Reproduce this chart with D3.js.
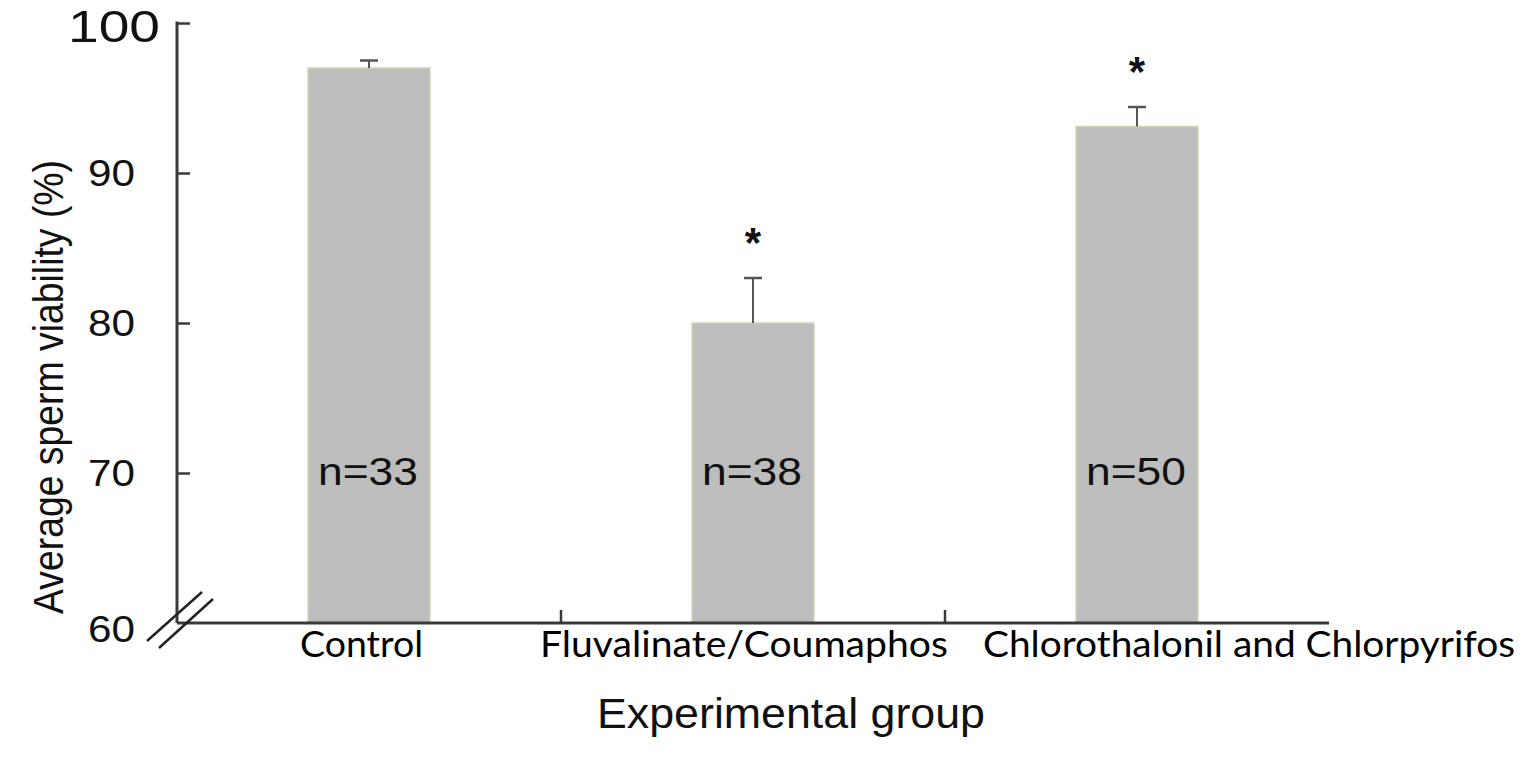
<!DOCTYPE html>
<html>
<head>
<meta charset="utf-8">
<script src="https://cdn.jsdelivr.net/npm/d3@7"></script>
<style>
html,body{margin:0;padding:0;background:#fff;}
svg{display:block;}
</style>
</head>
<body>
<svg id="chart" width="1530" height="765"></svg>
<script>
const categories = ["Control", "Fluvalinate/Coumaphos", "Chlorothalonil and Chlorpyrifos"];
const meanValues = [97.0, 80.0, 93.1];
const errorValues = [0.5, 3.0, 1.3];
const sampleLabels = ["n=33", "n=38", "n=50"];
const significant = [false, true, true];
const yTicks = [60, 70, 80, 90, 100];

(function () {
const svg = d3.select("#chart");
const mLeft = 177, mRight = 1329, mTop = 23, mBottom = 623;
const axisColor = "#3a3a3a";
const sans = "Liberation Sans, Arial, sans-serif";

const x = d3.scaleBand().domain(categories).range([mLeft, mRight]).paddingInner(0).paddingOuter(0);
const y = d3.scaleLinear().domain([60, 100]).range([mBottom, mTop]);
const barW = 122;
const cx = (c) => x(c) + x.bandwidth() / 2;

// bars
svg.append("g").selectAll("rect").data(categories).join("rect")
  .attr("x", (d) => cx(d) - barW / 2)
  .attr("y", (d, i) => y(meanValues[i]))
  .attr("width", barW)
  .attr("height", (d, i) => y(60) - y(meanValues[i]))
  .attr("fill", "#bdbdbd")
  .attr("stroke", "#d6d2b6")
  .attr("stroke-width", 1.5);

// error bars
const eg = svg.append("g").attr("stroke", "#555").attr("stroke-width", 2);
categories.forEach((c, i) => {
  const yt = y(meanValues[i] + errorValues[i]);
  eg.append("line").attr("x1", cx(c)).attr("x2", cx(c)).attr("y1", y(meanValues[i])).attr("y2", yt);
  eg.append("line").attr("x1", cx(c) - 9).attr("x2", cx(c) + 9).attr("y1", yt).attr("y2", yt).attr("stroke-width", 2.5);
});

// n labels
svg.append("g").selectAll("text").data(sampleLabels).join("text")
  .attr("x", (d, i) => cx(categories[i]) - 51)
  .attr("y", y(69.3) + 1)
  .attr("font-family", sans)
  .attr("font-size", 39)
  .attr("textLength", 100)
  .attr("lengthAdjust", "spacingAndGlyphs")
  .attr("fill", "#111")
  .text((d) => d);

// asterisks
svg.append("g").selectAll("text").data(categories.filter((c, i) => significant[i])).join("text")
  .attr("x", (d) => cx(d))
  .attr("y", (d) => { const i = categories.indexOf(d); return y(meanValues[i] + errorValues[i]) - 21; })
  .attr("text-anchor", "middle")
  .attr("font-family", sans)
  .attr("font-weight", "bold")
  .attr("font-size", 42)
  .attr("fill", "#111")
  .text("*");

// y axis ticks (inward)
const yAxis = d3.axisRight(y).tickValues(yTicks).tickSize(13).tickFormat("");
const gy = svg.append("g").attr("transform", `translate(${mLeft},0)`).call(yAxis);
gy.select(".domain").remove();
gy.selectAll(".tick line").attr("stroke", axisColor).attr("stroke-width", 2.5)
  .filter((d) => d === 60).remove();
svg.append("line").attr("x1", mLeft).attr("x2", mLeft).attr("y1", y(100) - 1.5).attr("y2", mBottom)
  .attr("stroke", axisColor).attr("stroke-width", 3);

// y tick labels
svg.append("g").selectAll("text").data(yTicks).join("text")
  .attr("x", (d) => d === 100 ? 160 : 135)
  .attr("y", (d) => d === 100 ? y(d) + 19 : d === 60 ? y(d) + 19 : y(d) + 12.5)
  .attr("text-anchor", "end")
  .attr("font-family", sans)
  .attr("font-size", (d) => d === 100 ? 44 : 36)
  .attr("textLength", (d) => d === 100 ? 92 : 47)
  .attr("lengthAdjust", "spacingAndGlyphs")
  .attr("fill", "#111")
  .text((d) => d);

// x axis
svg.append("line").attr("x1", mLeft).attr("x2", mRight).attr("y1", mBottom).attr("y2", mBottom)
  .attr("stroke", axisColor).attr("stroke-width", 3);
const dividers = categories.slice(1).map((c) => x(c));
svg.append("g").selectAll("line").data(dividers).join("line")
  .attr("x1", (d) => d).attr("x2", (d) => d)
  .attr("y1", mBottom).attr("y2", mBottom - 13)
  .attr("stroke", axisColor).attr("stroke-width", 2.5);

// axis break
const brk = svg.append("g").attr("stroke", "#222").attr("stroke-width", 2.5);
brk.append("line").attr("x1", 147).attr("y1", 641).attr("x2", 202).attr("y2", 592);
brk.append("line").attr("x1", 159).attr("y1", 648).attr("x2", 213).attr("y2", 599);

// category labels (placed as in the original figure)
const labelStart = [300, 540, 983];
const labelWidth = [123, 408, 532];
svg.append("g").selectAll("text").data(categories).join("text")
  .attr("x", (d, i) => labelStart[i])
  .attr("y", 657)
  .attr("font-family", "Lato, Carlito, Calibri, sans-serif")
  .attr("font-size", 37)
  .attr("textLength", (d, i) => labelWidth[i])
  .attr("lengthAdjust", "spacingAndGlyphs")
  .attr("fill", "#000")
  .text((d) => d);

// axis titles
svg.append("text")
  .attr("x", 597).attr("y", 728)
  .attr("font-family", sans)
  .attr("font-size", 43)
  .attr("textLength", 388)
  .attr("lengthAdjust", "spacingAndGlyphs")
  .attr("fill", "#111")
  .text("Experimental group");

svg.append("text")
  .attr("transform", "translate(63,614) rotate(-90)")
  .attr("font-family", sans)
  .attr("font-size", 43)
  .attr("textLength", 454)
  .attr("lengthAdjust", "spacingAndGlyphs")
  .attr("fill", "#111")
  .text("Average sperm viability (%)");
})();
</script>
</body>
</html>
